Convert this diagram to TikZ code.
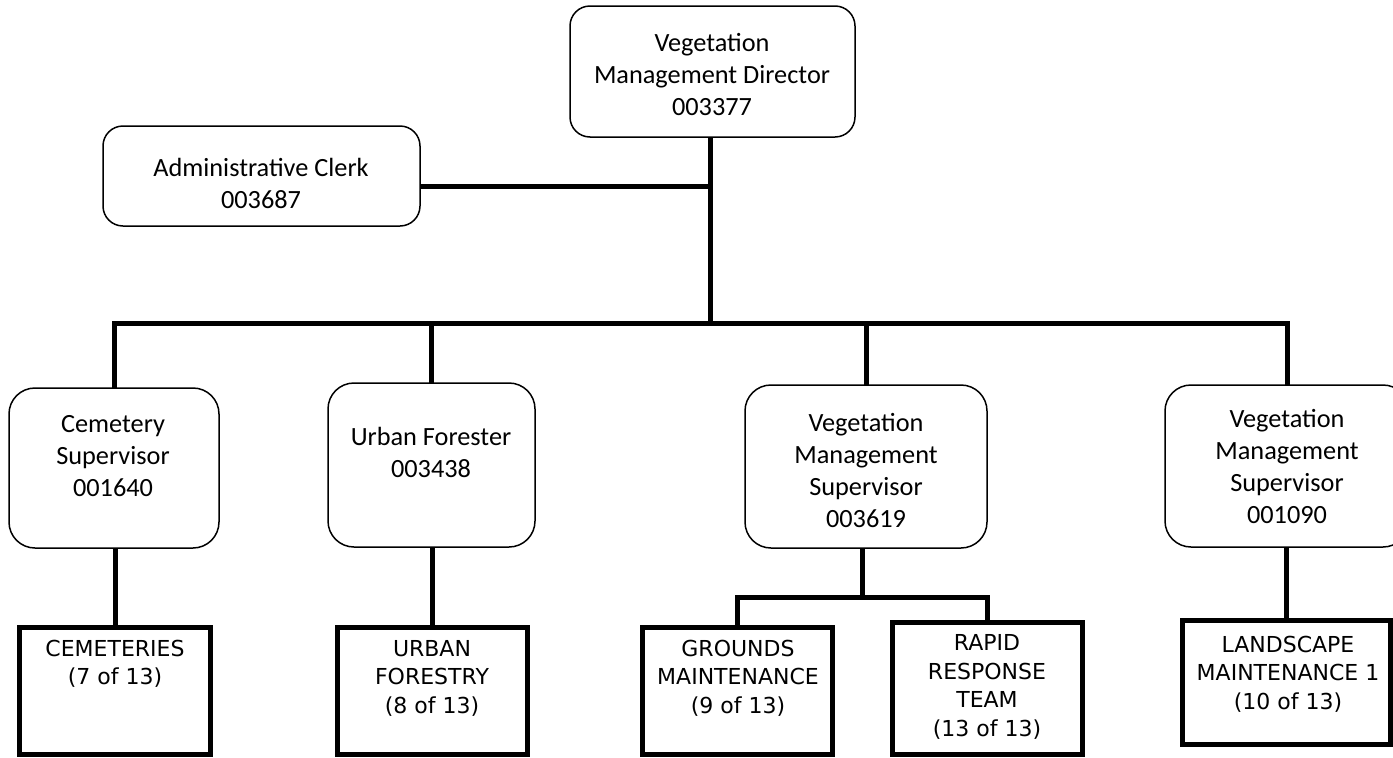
\documentclass[tikz,border=0pt]{standalone}
\usepackage{fontspec}
\newfontfamily\calfont{Carlito}
\newfontfamily\verfont{DejaVu Sans}
\begin{document}
\begin{tikzpicture}[x=1pt,y=-1pt,
  rbox/.style={draw, line width=1.5pt, rounded corners=22pt, inner sep=0pt, outer sep=0pt},
  tbox/.style={draw, line width=5pt, inner sep=0pt, outer sep=0pt},
  conn/.style={line width=5pt, line join=miter},
  ctext/.style={font=\calfont\fontsize{26.3}{32}\selectfont, align=center, inner sep=0pt},
  vtext/.style={font=\verfont\fontsize{22}{28.5}\selectfont, align=center, inner sep=0pt}]
\useasboundingbox (0,0) rectangle (1393,758);
% rounded boxes
\node[rbox, rounded corners=20pt, minimum width=285pt, minimum height=131pt] (dir) at (712.5,71.5) {};
\node[rbox, rounded corners=20pt, minimum width=317pt, minimum height=100pt] (admin) at (261.5,176) {};
\node[rbox, rounded corners=26pt, minimum width=210pt, minimum height=160pt] (cem) at (114,468) {};
\node[rbox, rounded corners=26pt, minimum width=207pt, minimum height=164pt] (uf) at (431.5,465) {};
\node[rbox, rounded corners=26pt, minimum width=242pt, minimum height=163pt] (vms1) at (866,466.5) {};
\node[rbox, rounded corners=26pt, minimum width=244pt, minimum height=162pt] (vms2) at (1287,466) {};
% thick boxes
\node[tbox, minimum width=191pt, minimum height=127pt] (cems) at (115,691) {};
\node[tbox, minimum width=190pt, minimum height=127pt] (ufy) at (432.5,691) {};
\node[tbox, minimum width=190pt, minimum height=127pt] (gm) at (737.5,691) {};
\node[tbox, minimum width=190pt, minimum height=132pt] (rrt) at (987.5,688.5) {};
\node[tbox, minimum width=208pt, minimum height=124pt] (land) at (1286.5,682.5) {};
% texts
\node[ctext] (tdir) at (712,74) {Vegetation\\Management Director\\003377};
\node[ctext] (tadmin) at (261,183) {Administrative Clerk\\003687};
\node[ctext] (tcem) at (113,456) {Cemetery\\Supervisor\\001640};
\node[ctext] (tuf) at (431,452) {Urban Forester\\003438};
\node[ctext] (tvms1) at (866,470) {Vegetation\\Management\\Supervisor\\003619};
\node[ctext] (tvms2) at (1287,466) {Vegetation\\Management\\Supervisor\\001090};
\node[vtext] (tcems) at (115,664) {CEMETERIES\\(7 of 13)};
\node[vtext] (tufy) at (432,678) {URBAN\\FORESTRY\\(8 of 13)};
\node[vtext] (tgm) at (738,678) {GROUNDS\\MAINTENANCE\\(9 of 13)};
\node[vtext] (trrt) at (987,687) {RAPID\\RESPONSE\\TEAM\\(13 of 13)};
\node[vtext] (tland) at (1288,674) {LANDSCAPE\\MAINTENANCE 1\\(10 of 13)};
% connectors
\coordinate (aj) at (710,186);
\coordinate (bj) at (710,323);
\coordinate (gj) at (862,597);
\draw[conn] (dir.south -| bj) -- (bj);
\draw[conn] (admin.east |- aj) -- (aj);
\draw[conn] (cem.north) -- (cem.north |- bj) -- (vms2.north |- bj) -- (vms2.north);
\draw[conn] (uf.north |- bj) -- (uf.north);
\draw[conn] (vms1.north |- bj) -- (vms1.north);
\draw[conn] (cem.south -| cems.north) -- (cems.north);
\draw[conn] (uf.south -| ufy.north) -- (ufy.north);
\draw[conn] (vms1.south -| gj) -- (gj);
\draw[conn] (gm.north) -- (gm.north |- gj) -- (rrt.north |- gj) -- (rrt.north);
\draw[conn] (vms2.south -| land.north) -- (land.north);
\end{tikzpicture}
\end{document}
